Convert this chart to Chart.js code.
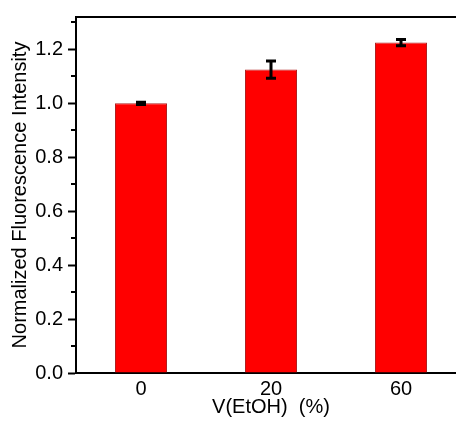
<!DOCTYPE html>
<html>
<head>
<meta charset="utf-8">
<script src="https://cdn.jsdelivr.net/npm/chart.js@4"></script>
<style>
  html, body { margin: 0; padding: 0; background: #fff; overflow: hidden; width: 456px; height: 425px; }
  #wrap { position: absolute; left: 0; top: 0; width: 472px; height: 425px; }
</style>
</head>
<body>
<div id="wrap"><canvas id="chart" width="472" height="425"></canvas></div>
<script>
// data
const categories = ['0', '20', '60'];
const intensity = [1.0, 1.125, 1.225];
const errors = [0.004, 0.032, 0.012];
const yTicks = [0, 0.2, 0.4, 0.6, 0.8, 1.0, 1.2];
const yMinorTicks = [0.1, 0.3, 0.5, 0.7, 0.9, 1.1, 1.3];

Chart.defaults.font.family = '"Liberation Sans", Arial, sans-serif';
Chart.defaults.color = '#000';

// error bars + top frame + minor ticks
const extras = {
    id: 'extras',
    afterDatasetsDraw(chart) {
        const ctx = chart.ctx;
        const y = chart.scales.y;
        const meta = chart.getDatasetMeta(0);
        ctx.save();
        ctx.strokeStyle = '#000';
        ctx.lineWidth = 3;
        meta.data.forEach(function(bar, i) {
            const hi = y.getPixelForValue(intensity[i] + errors[i]);
            const lo = y.getPixelForValue(intensity[i] - errors[i]);
            ctx.beginPath();
            ctx.moveTo(bar.x, hi);
            ctx.lineTo(bar.x, lo);
            ctx.moveTo(bar.x - 5, hi);
            ctx.lineTo(bar.x + 5, hi);
            ctx.moveTo(bar.x - 5, lo);
            ctx.lineTo(bar.x + 5, lo);
            ctx.stroke();
        });
        ctx.restore();
    },
    afterDraw(chart) {
        const ctx = chart.ctx;
        const area = chart.chartArea;
        const y = chart.scales.y;
        ctx.save();
        ctx.strokeStyle = '#000';
        ctx.lineWidth = 2;
        ctx.beginPath();
        ctx.moveTo(area.left - 1, area.top);
        ctx.lineTo(area.right, area.top);
        yMinorTicks.forEach(function(v) {
            const py = Math.round(y.getPixelForValue(v));
            ctx.moveTo(area.left - 5, py);
            ctx.lineTo(area.left, py);
        });
        ctx.stroke();
        ctx.restore();
    }
};

const ctx = document.getElementById('chart').getContext('2d');
new Chart(ctx, {
    type: 'bar',
    data: {
        labels: categories,
        datasets: [{
            data: intensity,
            backgroundColor: '#ff0000',
            borderColor: '#b02020',
            borderWidth: 1,
            barPercentage: 0.4,
            categoryPercentage: 1.0
        }]
    },
    options: {
        responsive: false,
        animation: false,
        layout: { padding: { top: 16, right: 6, left: 0, bottom: 0 } },
        plugins: {
            legend: { display: false },
            tooltip: { enabled: false }
        },
        scales: {
            x: {
                grid: { display: false, drawTicks: false },
                border: { color: '#000', width: 2 },
                ticks: { font: { size: 20 }, padding: 4 },
                title: {
                    display: true,
                    text: 'V(EtOH)  (%)',
                    font: { size: 20 },
                    padding: { top: 0, bottom: 6 }
                },
                afterFit: function(scale) { scale.height = 52; }
            },
            y: {
                min: 0,
                max: 1.32,
                afterBuildTicks: function(scale) {
                    scale.ticks = yTicks.map(function(v) { return { value: v }; });
                },
                grid: {
                    drawOnChartArea: false,
                    tickLength: 8,
                    tickWidth: 2,
                    tickColor: '#000'
                },
                border: { color: '#000', width: 2 },
                ticks: {
                    font: { size: 20 },
                    padding: 5,
                    callback: function(v) { return v.toFixed(1); }
                },
                title: {
                    display: true,
                    text: 'Normalized Fluorescence Intensity',
                    font: { size: 20 },
                    padding: { top: 8, bottom: 0 }
                },
                afterFit: function(scale) { scale.width = 76; }
            }
        }
    },
    plugins: [extras]
});
</script>
</body>
</html>
